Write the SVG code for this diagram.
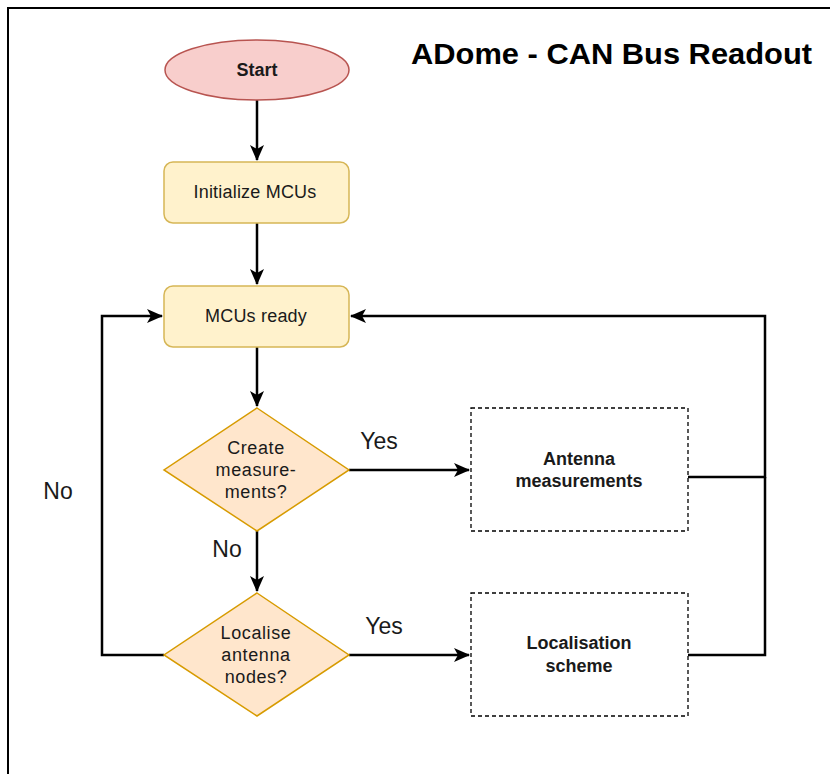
<svg xmlns="http://www.w3.org/2000/svg" width="830" height="774" viewBox="0 0 830 774">
  <style>
    .t { font-family: "Liberation Sans", Arial, sans-serif; fill: #1a1a1a; text-anchor: middle; }
    .b { font-weight: bold; }
    .n18 { font-size: 18px; }
    .lbl { font-family: "Liberation Sans", Arial, sans-serif; fill: #1a1a1a; font-size: 23px; text-anchor: middle; }
    .conn { fill: none; stroke: #000; stroke-width: 2.5; }
    .proc { fill: #fff2cc; stroke: #d6b656; stroke-width: 1.5; }
    .dec { fill: #ffe6cc; stroke: #d79b00; stroke-width: 1.5; }
    .dash { fill: #fff; stroke: #000; stroke-width: 1.3; stroke-dasharray: 4 3; }
  </style>
  <defs>
    <marker id="arr" markerUnits="userSpaceOnUse" markerWidth="16" markerHeight="14" refX="15" refY="7" orient="auto" viewBox="0 0 16 14">
      <path d="M0,0 L16,7 L0,14 L4,7 Z" fill="#000"/>
    </marker>
  </defs>
  <rect x="0" y="0" width="830" height="774" fill="#fff"/>
  <path d="M8,774 L8,8 L830,8" fill="none" stroke="#000" stroke-width="2"/>

  <text x="411" y="64" font-family="Liberation Sans, Arial, sans-serif" font-weight="bold" font-size="30" fill="#000" textLength="401" lengthAdjust="spacingAndGlyphs">ADome - CAN Bus Readout</text>

  <g id="connectors">
    <path class="conn" d="M257,100 L257,160" marker-end="url(#arr)"/>
    <path class="conn" d="M257,223 L257,284" marker-end="url(#arr)"/>
    <path class="conn" d="M257,347 L257,406" marker-end="url(#arr)"/>
    <path class="conn" d="M257,531 L257,591" marker-end="url(#arr)"/>
    <path class="conn" d="M349,470 L469,470" marker-end="url(#arr)"/>
    <path class="conn" d="M349,655 L469,655" marker-end="url(#arr)"/>
    <path class="conn" d="M688,477 L765,477 L765,316 L351,316" marker-end="url(#arr)"/>
    <path class="conn" d="M688,655 L765,655 L765,477"/>
    <path class="conn" d="M164,655 L102,655 L102,316 L162,316" marker-end="url(#arr)"/>
    <text class="lbl" x="379" y="449">Yes</text>
    <text class="lbl" x="384" y="634">Yes</text>
    <text class="lbl" x="227" y="557">No</text>
    <text class="lbl" x="58" y="499">No</text>
  </g>

  <g id="start">
    <ellipse cx="257" cy="70" rx="92" ry="30" fill="#f8cecc" stroke="#b85450" stroke-width="1.5"/>
    <text class="t b n18" x="257" y="76">Start</text>
  </g>
  <g id="init">
    <rect class="proc" x="164" y="162" width="185" height="61" rx="9"/>
    <text class="t n18" x="255" y="198" style="letter-spacing:0.2px">Initialize MCUs</text>
  </g>
  <g id="ready">
    <rect class="proc" x="164" y="286" width="185" height="61" rx="9"/>
    <text class="t n18" x="256" y="322" style="letter-spacing:0.2px">MCUs ready</text>
  </g>
  <g id="create">
    <polygon class="dec" points="257,408 349,470 257,531 164,470"/>
    <text class="t n18" x="256" y="454" style="letter-spacing:0.6px">Create</text>
    <text class="t n18" x="256" y="476" style="letter-spacing:0.6px">measure-</text>
    <text class="t n18" x="256" y="498" style="letter-spacing:0.6px">ments?</text>
  </g>
  <g id="localise">
    <polygon class="dec" points="257,593 349,655 257,716 164,655"/>
    <text class="t n18" x="256" y="639" style="letter-spacing:0.6px">Localise</text>
    <text class="t n18" x="256" y="661" style="letter-spacing:0.6px">antenna</text>
    <text class="t n18" x="256" y="683" style="letter-spacing:0.6px">nodes?</text>
  </g>
  <g id="antenna">
    <rect class="dash" x="471" y="408" width="217" height="123"/>
    <text class="t b n18" x="579" y="465">Antenna</text>
    <text class="t b n18" x="579" y="487">measurements</text>
  </g>
  <g id="scheme">
    <rect class="dash" x="471" y="593" width="217" height="123"/>
    <text class="t b n18" x="579" y="649">Localisation</text>
    <text class="t b n18" x="579" y="672">scheme</text>
  </g>
</svg>
